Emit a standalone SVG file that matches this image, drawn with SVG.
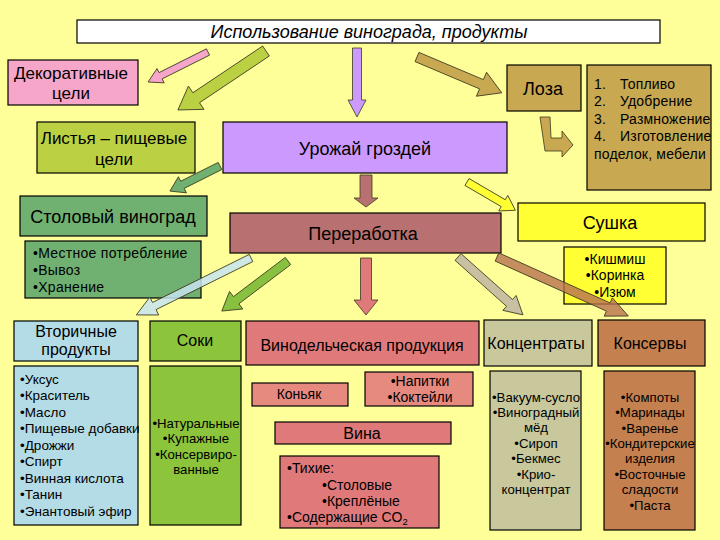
<svg xmlns="http://www.w3.org/2000/svg" width="720" height="540" viewBox="0 0 720 540">
<defs>
<style>
text{font-family:"Liberation Sans",Arial,sans-serif;fill:#000}
.b{stroke:#000;stroke-width:1.2}
.a{stroke:#3a3a20;stroke-width:0.8}
.t16{font-size:17px;text-anchor:middle}
.t17{font-size:18px;text-anchor:middle}
.t15{font-size:16px;text-anchor:middle}
.s{font-size:13.5px}
.sc{font-size:14px;text-anchor:middle}
.s12{font-size:13.2px;text-anchor:middle}
.l{font-size:14px;letter-spacing:0.2px}
</style>
</defs>
<rect width="720" height="540" fill="#FFFF99"/>

<g id="title"><rect class="b" x="77" y="20" width="583" height="23" fill="#fff"/><text x="369" y="38" style="font-size:18px;font-style:italic;text-anchor:middle">Использование винограда, продукты</text></g>

<g id="dekor"><rect class="b" x="8" y="60" width="130" height="45" fill="#F6A6C8"/><text class="t16" x="71" y="79">Декоративные</text><text class="t16" x="71" y="99">цели</text></g>

<g id="listya"><rect class="b" x="37" y="122" width="158" height="51" fill="#BBD143"/><text class="t16" x="114" y="144">Листья – пищевые</text><text class="t16" x="114" y="165">цели</text></g>

<g id="urozhay"><rect class="b" x="223" y="122" width="284" height="51" fill="#CC99FF"/><text class="t17" x="365" y="155">Урожай гроздей</text></g>

<g id="loza"><rect class="b" x="507" y="65" width="74" height="46" fill="#C8A850"/><text class="t17" x="543" y="95">Лоза</text></g>

<g id="loza-list"><rect class="b" x="587" y="65" width="124" height="125" fill="#C8A850"/>
<text class="l" x="594" y="89">1.</text><text class="l" x="620" y="89">Топливо</text>
<text class="l" x="594" y="106">2.</text><text class="l" x="620" y="106">Удобрение</text>
<text class="l" x="594" y="124">3.</text><text class="l" x="620" y="124">Размножение</text>
<text class="l" x="594" y="141">4.</text><text class="l" x="620" y="141">Изготовление</text>
<text class="l" x="594" y="159">поделок, мебели</text></g>

<g id="stolovy"><rect class="b" x="20" y="196" width="187" height="40" fill="#70B070"/><text class="t17" x="113" y="223">Столовый виноград</text></g>

<g id="stolovy-list"><rect class="b" x="25" y="241" width="176" height="57" fill="#70B070"/>
<text x="33" y="258" style="font-size:14px;letter-spacing:0.3px">•Местное потребление</text><text x="33" y="275" style="font-size:14px;letter-spacing:0.3px">•Вывоз</text><text x="33" y="292" style="font-size:14px;letter-spacing:0.3px">•Хранение</text></g>

<g id="pererabotka"><rect class="b" x="230" y="213" width="271" height="40" fill="#B87070"/><text class="t17" x="363" y="240">Переработка</text></g>

<g id="sushka"><rect class="b" x="518" y="203" width="187" height="38" fill="#FFFF33"/><text class="t17" x="610" y="229">Сушка</text></g>

<g id="sushka-list"><rect class="b" x="564" y="247" width="102" height="57" fill="#FFFF33"/>
<text class="sc" x="615" y="264">•Кишмиш</text><text class="sc" x="615" y="280">•Коринка</text><text class="sc" x="615" y="297">•Изюм</text></g>

<g id="vtorichnye"><rect class="b" x="14" y="321" width="124" height="40" fill="#B4DCE6"/><text class="t15" x="76" y="337">Вторичные</text><text class="t15" x="76" y="355">продукты</text></g>

<g id="vtorichnye-list"><rect class="b" x="14" y="366" width="124" height="159" fill="#B4DCE6"/>
<text class="s" x="20" y="384">•Уксус</text><text class="s" x="20" y="400">•Краситель</text><text class="s" x="20" y="417">•Масло</text><text class="s" x="20" y="433">•Пищевые добавки</text><text class="s" x="20" y="450">•Дрожжи</text><text class="s" x="20" y="466">•Спирт</text><text class="s" x="20" y="483">•Винная кислота</text><text class="s" x="20" y="499">•Танин</text><text class="s" x="20" y="516">•Энантовый эфир</text></g>

<g id="soki"><rect class="b" x="150" y="321" width="91" height="40" fill="#8CC43C"/><text class="t15" x="195" y="346">Соки</text></g>

<g id="soki-list"><rect class="b" x="150" y="366" width="91" height="159" fill="#8CC43C"/>
<text class="s12" x="196" y="428">•Натуральные</text><text class="s12" x="196" y="443">•Купажные</text><text class="s12" x="196" y="459">•Консервиро-</text><text class="s12" x="196" y="474">ванные</text></g>

<g id="vino-prod"><rect class="b" x="246" y="321" width="233" height="44" fill="#E07A7A"/><text class="t15" x="362" y="351">Винодельческая продукция</text></g>

<g id="konyak"><rect class="b" x="252" y="383" width="96" height="23" fill="#E68A80"/><text class="sc" x="299" y="399">Коньяк</text></g>

<g id="napitki"><rect class="b" x="365" y="372" width="108" height="34" fill="#E68A80"/><text class="sc" x="420" y="386">•Напитки</text><text class="sc" x="420" y="402">•Коктейли</text></g>

<g id="vina"><rect class="b" x="275" y="422" width="176" height="22" fill="#E07A7A"/><text class="t15" x="362" y="439">Вина</text></g>

<g id="vina-list"><rect class="b" x="280" y="456" width="159" height="72" fill="#E07A7A"/>
<text class="sc" x="287" y="473" style="text-anchor:start">•Тихие:</text><text class="sc" x="322" y="490" style="text-anchor:start">•Столовые</text><text class="sc" x="322" y="506" style="text-anchor:start">•Креплёные</text><text class="sc" x="287" y="522" style="text-anchor:start">•Содержащие CO<tspan dy="3" style="font-size:9.5px">2</tspan></text></g>

<g id="koncentraty"><rect class="b" x="484" y="320" width="108" height="46" fill="#C8C89C"/><text class="t15" x="536" y="349">Концентраты</text></g>

<g id="koncentraty-list"><rect class="b" x="490" y="371" width="91" height="159" fill="#C8C89C"/>
<text class="s12" x="536" y="402">•Вакуум-сусло</text><text class="s12" x="536" y="417">•Виноградный</text><text class="s12" x="536" y="432">мёд</text><text class="s12" x="536" y="448">•Сироп</text><text class="s12" x="536" y="463">•Бекмес</text><text class="s12" x="536" y="479">•Крио-</text><text class="s12" x="536" y="494">концентрат</text></g>

<g id="konservy"><rect class="b" x="598" y="320" width="107" height="46" fill="#C4804F"/><text class="t15" x="650" y="349">Консервы</text></g>

<g id="konservy-list"><rect class="b" x="604" y="371" width="91" height="159" fill="#C4804F"/>
<text class="s12" x="650" y="402">•Компоты</text><text class="s12" x="650" y="417">•Маринады</text><text class="s12" x="650" y="433">•Варенье</text><text class="s12" x="650" y="448">•Кондитерские</text><text class="s12" x="650" y="463">изделия</text><text class="s12" x="650" y="479">•Восточные</text><text class="s12" x="650" y="494">сладости</text><text class="s12" x="650" y="510">•Паста</text></g>

<g id="connectors">
<polygon class="a" fill="#F6A6C8" transform="translate(208,52) rotate(153.4)" points="0,-3.5 53,-3.5 53,-8 67,0 53,8 53,3.5 0,3.5"/>
<polygon class="a" fill="#BBD143" transform="translate(266,51) rotate(146.2)" points="0,-6 84,-6 84,-14 106,0 84,14 84,6 0,6"/>
<polygon class="a" fill="#CC99FF" transform="translate(357,48) rotate(90)" points="0,-4.5 52,-4.5 52,-9 69,0 52,9 52,4.5 0,4.5"/>
<polygon class="a" fill="#C8A850" transform="translate(417,57) rotate(22.9)" points="0,-5 70,-5 70,-13 92,0 70,13 70,5 0,5"/>
<path class="a" fill="#C8A850" d="M540,117 L550,117 L551,138 L562,138 L562,131 L573,145 L562,157 L562,151 L545,151 Z"/>
<polygon class="a" fill="#70B070" transform="translate(220,166) rotate(153.4)" points="0,-4 42,-4 42,-9 56,0 42,9 42,4 0,4"/>
<polygon class="a" fill="#FFFF33" transform="translate(467,182) rotate(30.3)" points="0,-4 42,-4 42,-9 56,0 42,9 42,4 0,4"/>
<polygon class="a" fill="#B87070" transform="translate(366,175) rotate(90)" points="0,-6 23,-6 23,-12 32,0 23,12 23,6 0,6"/>
<polygon class="a" fill="#C8E4F0" fill-opacity="0.85" transform="translate(251,258) rotate(153.6)" points="0,-4 108,-4 108,-10 128,0 108,10 108,4 0,4"/>
<polygon class="a" fill="#88C040" transform="translate(288,261) rotate(142.9)" points="0,-4.5 65,-4.5 65,-11 83,0 65,11 65,4.5 0,4.5"/>
<polygon class="a" fill="#E07A7A" transform="translate(366,258) rotate(90)" points="0,-5.5 42,-5.5 42,-12 57,0 42,12 42,5.5 0,5.5"/>
<polygon class="a" fill="#C8C0A0" transform="translate(458,257) rotate(41.7)" points="0,-4.5 69,-4.5 69,-10 87,0 69,10 69,4.5 0,4.5"/>
<polygon class="a" fill="#B87050" fill-opacity="0.8" transform="translate(497,257) rotate(24.2)" points="0,-4.5 122,-4.5 122,-10 144,0 122,10 122,4.5 0,4.5"/>
</g>
</svg>
